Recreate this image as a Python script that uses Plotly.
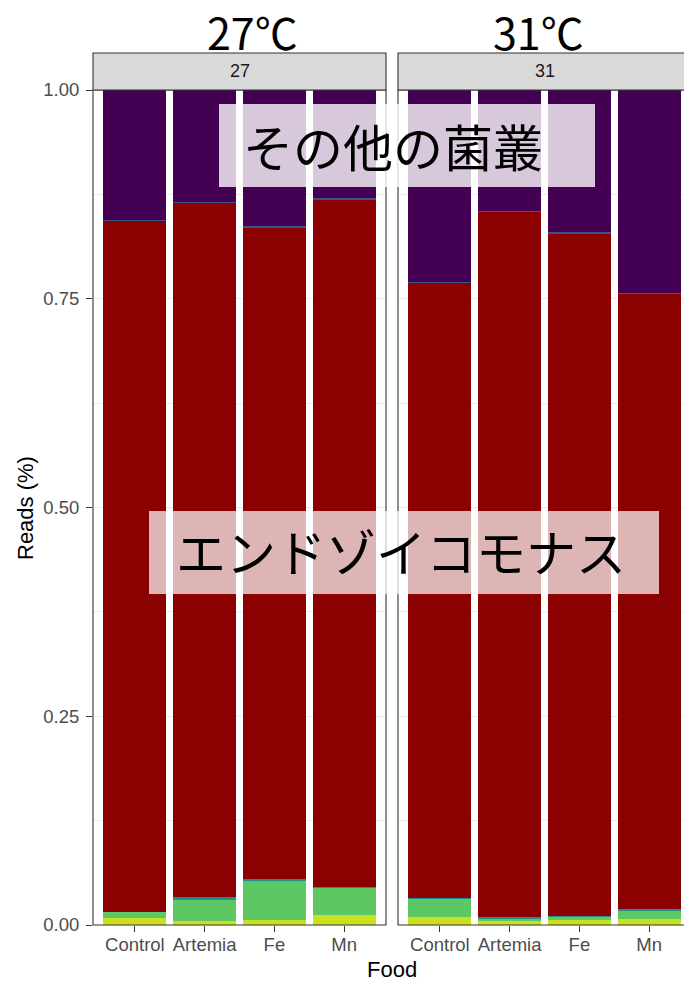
import plotly.graph_objects as go

# ---- data -------------------------------------------------------------
foods = ["Control", "Artemia", "Fe", "Mn"]
temps = ["27", "31"]
y_ticks = [0.0, 0.25, 0.50, 0.75, 1.00]
y_tick_text = ["0.00", "0.25", "0.50", "0.75", "1.00"]

# relative read proportions per taxon (stack order: bottom -> top)
taxon_a_27 = [0.0087, 0.0050, 0.0060, 0.0120]
taxon_a_31 = [0.0100, 0.0048, 0.0064, 0.0075]

taxon_b_27 = [0.0069, 0.0260, 0.0475, 0.0330]
taxon_b_31 = [0.0220, 0.0027, 0.0032, 0.0100]

taxon_c_27 = [0.0005, 0.0020, 0.0012, 0.0005]
taxon_c_31 = [0.0005, 0.0015, 0.0006, 0.0020]

endozoicomonas_27 = [0.8280, 0.8320, 0.7810, 0.8230]
endozoicomonas_31 = [0.7365, 0.8460, 0.8178, 0.7365]

taxon_d_27 = [0.0005, 0.0010, 0.0010, 0.0024]
taxon_d_31 = [0.0005, 0.0005, 0.0015, 0.0005]

others_27 = [0.1554, 0.1340, 0.1633, 0.1291]
others_31 = [0.2305, 0.1445, 0.1705, 0.2435]

series = [
    ("Taxon A", "#CBE01F", taxon_a_27, taxon_a_31),
    ("Taxon B", "#5DC863", taxon_b_27, taxon_b_31),
    ("Taxon C", "#21908C", taxon_c_27, taxon_c_31),
    ("エンドゾイコモナス", "#8B0000", endozoicomonas_27, endozoicomonas_31),
    ("Taxon D", "#3B528B", taxon_d_27, taxon_d_31),
    ("その他の菌叢", "#440154", others_27, others_31),
]

# ---- layout helpers (pixel -> paper) -----------------------------------
W, H = 684, 981


def px(x):
    return x / W


def py(y):
    return 1 - y / H


PANEL_TOP, PANEL_BOTTOM = 90, 925
LEFT_X0, LEFT_X1 = 93, 386
RIGHT_X0, RIGHT_X1 = 398, 691
UNIT = (LEFT_X1 - LEFT_X0) / 4.2  # pixels per category step

fig = go.Figure()

for name, color, v27, v31 in series:
    fig.add_trace(go.Bar(x=foods, y=v27, name=name, marker_color=color,
                         marker_line_width=0, xaxis="x", yaxis="y",
                         showlegend=False))
    fig.add_trace(go.Bar(x=foods, y=v31, name=name, marker_color=color,
                         marker_line_width=0, xaxis="x2", yaxis="y2",
                         showlegend=False))

tick_font = dict(family="Liberation Sans, Arial, sans-serif", size=18.5,
                 color="#4D4D4D")
grid = "#EBEBEB"

xcommon = dict(type="category", categoryorder="array", categoryarray=foods,
               showgrid=False, zeroline=False, ticks="outside", ticklen=6,
               tickwidth=1.1, tickcolor="#333333", tickfont=tick_font,
               ticklabelstandoff=-3,
               showline=False, fixedrange=True, automargin=False)
ycommon = dict(range=[0, 1], domain=[py(PANEL_BOTTOM), py(PANEL_TOP)],
               tickvals=y_ticks, showgrid=True, gridcolor=grid,
               gridwidth=1.1, zeroline=False, showline=False,
               minor=dict(tickvals=[0.125, 0.375, 0.625, 0.875],
                          showgrid=True, gridcolor=grid, gridwidth=0.6,
                          ticklen=0),
               fixedrange=True, automargin=False)

fig.update_layout(
    width=W, height=H,
    margin=dict(l=0, r=0, t=0, b=0, pad=0, autoexpand=False),
    paper_bgcolor="white", plot_bgcolor="white",
    barmode="stack", bargap=0.1,
    xaxis=dict(domain=[px(LEFT_X0), px(LEFT_X1)], range=[-0.6, 3.6],
               anchor="y", **xcommon),
    xaxis2=dict(domain=[px(RIGHT_X0), 1],
                range=[-0.6, -0.6 + (W - RIGHT_X0) / UNIT],
                anchor="y2", **xcommon),
    yaxis=dict(anchor="x", ticks="outside", ticklen=6, tickwidth=1.1,
               tickcolor="#333333", ticktext=y_tick_text,
               tickfont=tick_font, showticklabels=True,
               ticklabelstandoff=3, **ycommon),
    yaxis2=dict(anchor="x2", ticks="", showticklabels=False, **ycommon),
)

shapes = []
# panel borders
for x0, x1 in [(LEFT_X0, LEFT_X1), (RIGHT_X0, RIGHT_X1)]:
    shapes.append(dict(type="rect", xref="paper", yref="paper",
                       x0=px(x0), x1=px(x1), y0=py(PANEL_BOTTOM),
                       y1=py(PANEL_TOP), line=dict(color="#333333", width=1.1),
                       fillcolor="rgba(0,0,0,0)", layer="above"))
    # facet strip
    shapes.append(dict(type="rect", xref="paper", yref="paper",
                       x0=px(x0), x1=px(x1), y0=py(PANEL_TOP), y1=py(53),
                       line=dict(color="#333333", width=1.1),
                       fillcolor="#D9D9D9", layer="above"))

# translucent label boxes
shapes.append(dict(type="rect", xref="paper", yref="paper",
                   x0=px(219), x1=px(595), y0=py(187), y1=py(104),
                   line=dict(width=0), fillcolor="rgba(255,255,255,0.79)",
                   layer="above"))
shapes.append(dict(type="rect", xref="paper", yref="paper",
                   x0=px(149), x1=px(659), y0=py(594), y1=py(511),
                   line=dict(width=0), fillcolor="rgba(255,255,255,0.71)",
                   layer="above"))
fig.update_layout(shapes=shapes)

jp = "Noto Sans CJK JP, Noto Sans CJK SC, sans-serif"
ann = []
# strip labels
for t, (x0, x1) in zip(temps, [(LEFT_X0, LEFT_X1), (RIGHT_X0, RIGHT_X1)]):
    ann.append(dict(text=t, x=px((x0 + x1) / 2), y=py(71.5), xref="paper",
                    yref="paper", showarrow=False, xanchor="center",
                    yanchor="middle",
                    font=dict(family="Liberation Sans, Arial", size=18,
                              color="#1A1A1A")))
# temperature headings
for t, cx in zip(temps, [252, 538]):
    ann.append(dict(text=t + "℃", x=px(cx), y=py(31), xref="paper",
                    yref="paper", showarrow=False, xanchor="center",
                    yanchor="middle", height=48, borderpad=0,
                    font=dict(family=jp, size=43, color="black")))
# taxon labels
ann.append(dict(text="その他の菌叢", x=px(393), y=py(145), xref="paper",
                yref="paper", showarrow=False, xanchor="center",
                yanchor="middle", font=dict(family=jp, size=50, color="black")))
ann.append(dict(text="エンドゾイコモナス", x=px(401), y=py(550), xref="paper",
                yref="paper", showarrow=False, xanchor="center",
                yanchor="middle", font=dict(family=jp, size=50, color="black")))
# axis titles
ann.append(dict(text="Reads (%)", x=px(25), y=py(508), xref="paper",
                yref="paper", showarrow=False, textangle=-90,
                xanchor="center", yanchor="middle",
                font=dict(family="Liberation Sans, Arial", size=22,
                          color="black")))
ann.append(dict(text="Food", x=px(392), y=py(969), xref="paper",
                yref="paper", showarrow=False, xanchor="center",
                yanchor="middle", height=22, borderpad=0,
                font=dict(family="Liberation Sans, Arial", size=22,
                          color="black")))
fig.update_layout(annotations=ann)

fig.write_html("out.html")
